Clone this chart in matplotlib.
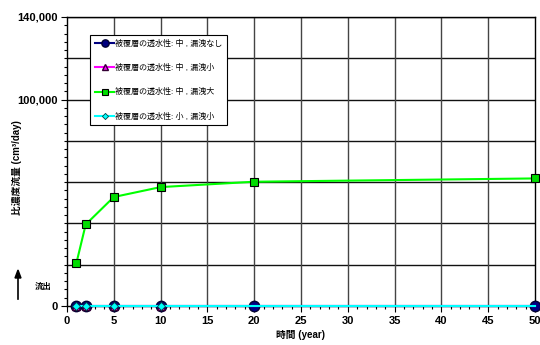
import matplotlib.pyplot as plt
from matplotlib.ticker import MultipleLocator, FixedLocator

plt.rcParams['font.family'] = ['Liberation Sans', 'Noto Sans CJK JP', 'DejaVu Sans']

# 経過年数と各ケースの比濃度流量
years = [1, 2, 5, 10, 20, 50]
flux_mid_none = [0, 0, 0, 0, 0, 0]
flux_mid_small = [0, 0, 0, 0, 0, 0]
flux_mid_large = [20700, 39500, 52800, 57600, 60200, 61800]
flux_low_small = [0, 0, 0, 0, 0, 0]

labels = ['被覆層の透水性: 中 , 漏洩なし',
          '被覆層の透水性: 中 , 漏洩小',
          '被覆層の透水性: 中 , 漏洩大',
          '被覆層の透水性: 小 , 漏洩小']

yticks = [0, 100000, 140000]
ytick_labels = ['0', '100,000', '140,000']

fig = plt.figure(figsize=(5.4, 3.45), dpi=100)
ax = fig.add_axes([67 / 540, 39 / 345, 468 / 540, 289 / 345])

ax.plot(years, flux_mid_none, color='#000080', lw=1.5, marker='o', ms=7.5,
        mfc='#000080', mec='#000033', label=labels[0], zorder=3, clip_on=False)
ax.plot(years, flux_mid_small, color='#ff00ff', lw=1.5, marker='^', ms=6,
        mfc='#ff00ff', mec='#330033', markevery=[0, 1, 2, 3],
        label=labels[1], zorder=3, clip_on=False)
ax.plot(years, flux_mid_large, color='#00ff00', lw=1.5, marker='s', ms=5.5,
        mfc='#00dd00', mec='black', mew=0.8, label=labels[2], zorder=4,
        clip_on=False)
ax.plot(years, flux_low_small, color='#00ffff', lw=1.5, marker='D', ms=4.5,
        mfc='#00ffff', mec='#004444', mew=0.6, markevery=[0, 1, 2, 3],
        label=labels[3], zorder=5, clip_on=False)

ax.set_xlim(0, 50)
ax.set_ylim(0, 140000)
ax.xaxis.set_major_locator(MultipleLocator(5))
ax.xaxis.set_minor_locator(MultipleLocator(1))
ax.yaxis.set_major_locator(FixedLocator(yticks))
ax.set_yticklabels(ytick_labels)
ax.yaxis.set_minor_locator(MultipleLocator(4000))

# 20,000刻みの横線と5年刻みの縦線
for v in range(20000, 140001, 20000):
    ax.axhline(v, color='#111111', lw=1.0, zorder=1)
for v in range(5, 50, 5):
    ax.axvline(v, color='#444444', lw=1.0, zorder=1)

ax.tick_params(axis='both', which='major', direction='out', length=4,
               labelsize=8, width=0.8, pad=3)
ax.tick_params(axis='both', which='minor', direction='out', length=2.5, width=0.8)
for lab in ax.get_xticklabels() + ax.get_yticklabels():
    lab.set_fontweight('bold')
for s in ax.spines.values():
    s.set_linewidth(1.0)

ax.set_xlabel('時間 (year)', fontsize=7, fontweight='bold', labelpad=3)
ax.set_ylabel('比濃度流量 (cm³/day)', fontsize=7, fontweight='bold')
ax.yaxis.set_label_coords(-0.097, 0.48)

# 流出方向の矢印
fig.text(35 / 540, 1 - 287 / 345, '流出', fontsize=6, fontweight='bold',
         va='center')
fig.add_artist(plt.Line2D([18 / 540, 18 / 540], [1 - 299 / 345, 1 - 276 / 345],
                          color='black', lw=1.2))
fig.patches.append(plt.Polygon([[15 / 540, 1 - 278 / 345], [21 / 540, 1 - 278 / 345],
                                [18 / 540, 1 - 270 / 345]], closed=True,
                               color='black', transform=fig.transFigure))

leg = ax.legend(loc='upper left', bbox_to_anchor=(23 / 468, 1 - 18 / 289),
                fontsize=5.8, frameon=True, fancybox=False, edgecolor='black',
                framealpha=1, labelspacing=2.0, handlelength=2.4,
                handletextpad=0.05, borderpad=0.6, borderaxespad=0,
                markerscale=0.7)
leg.get_frame().set_linewidth(0.8)
leg.set_zorder(10)

fig.savefig('out.png', dpi=100)
